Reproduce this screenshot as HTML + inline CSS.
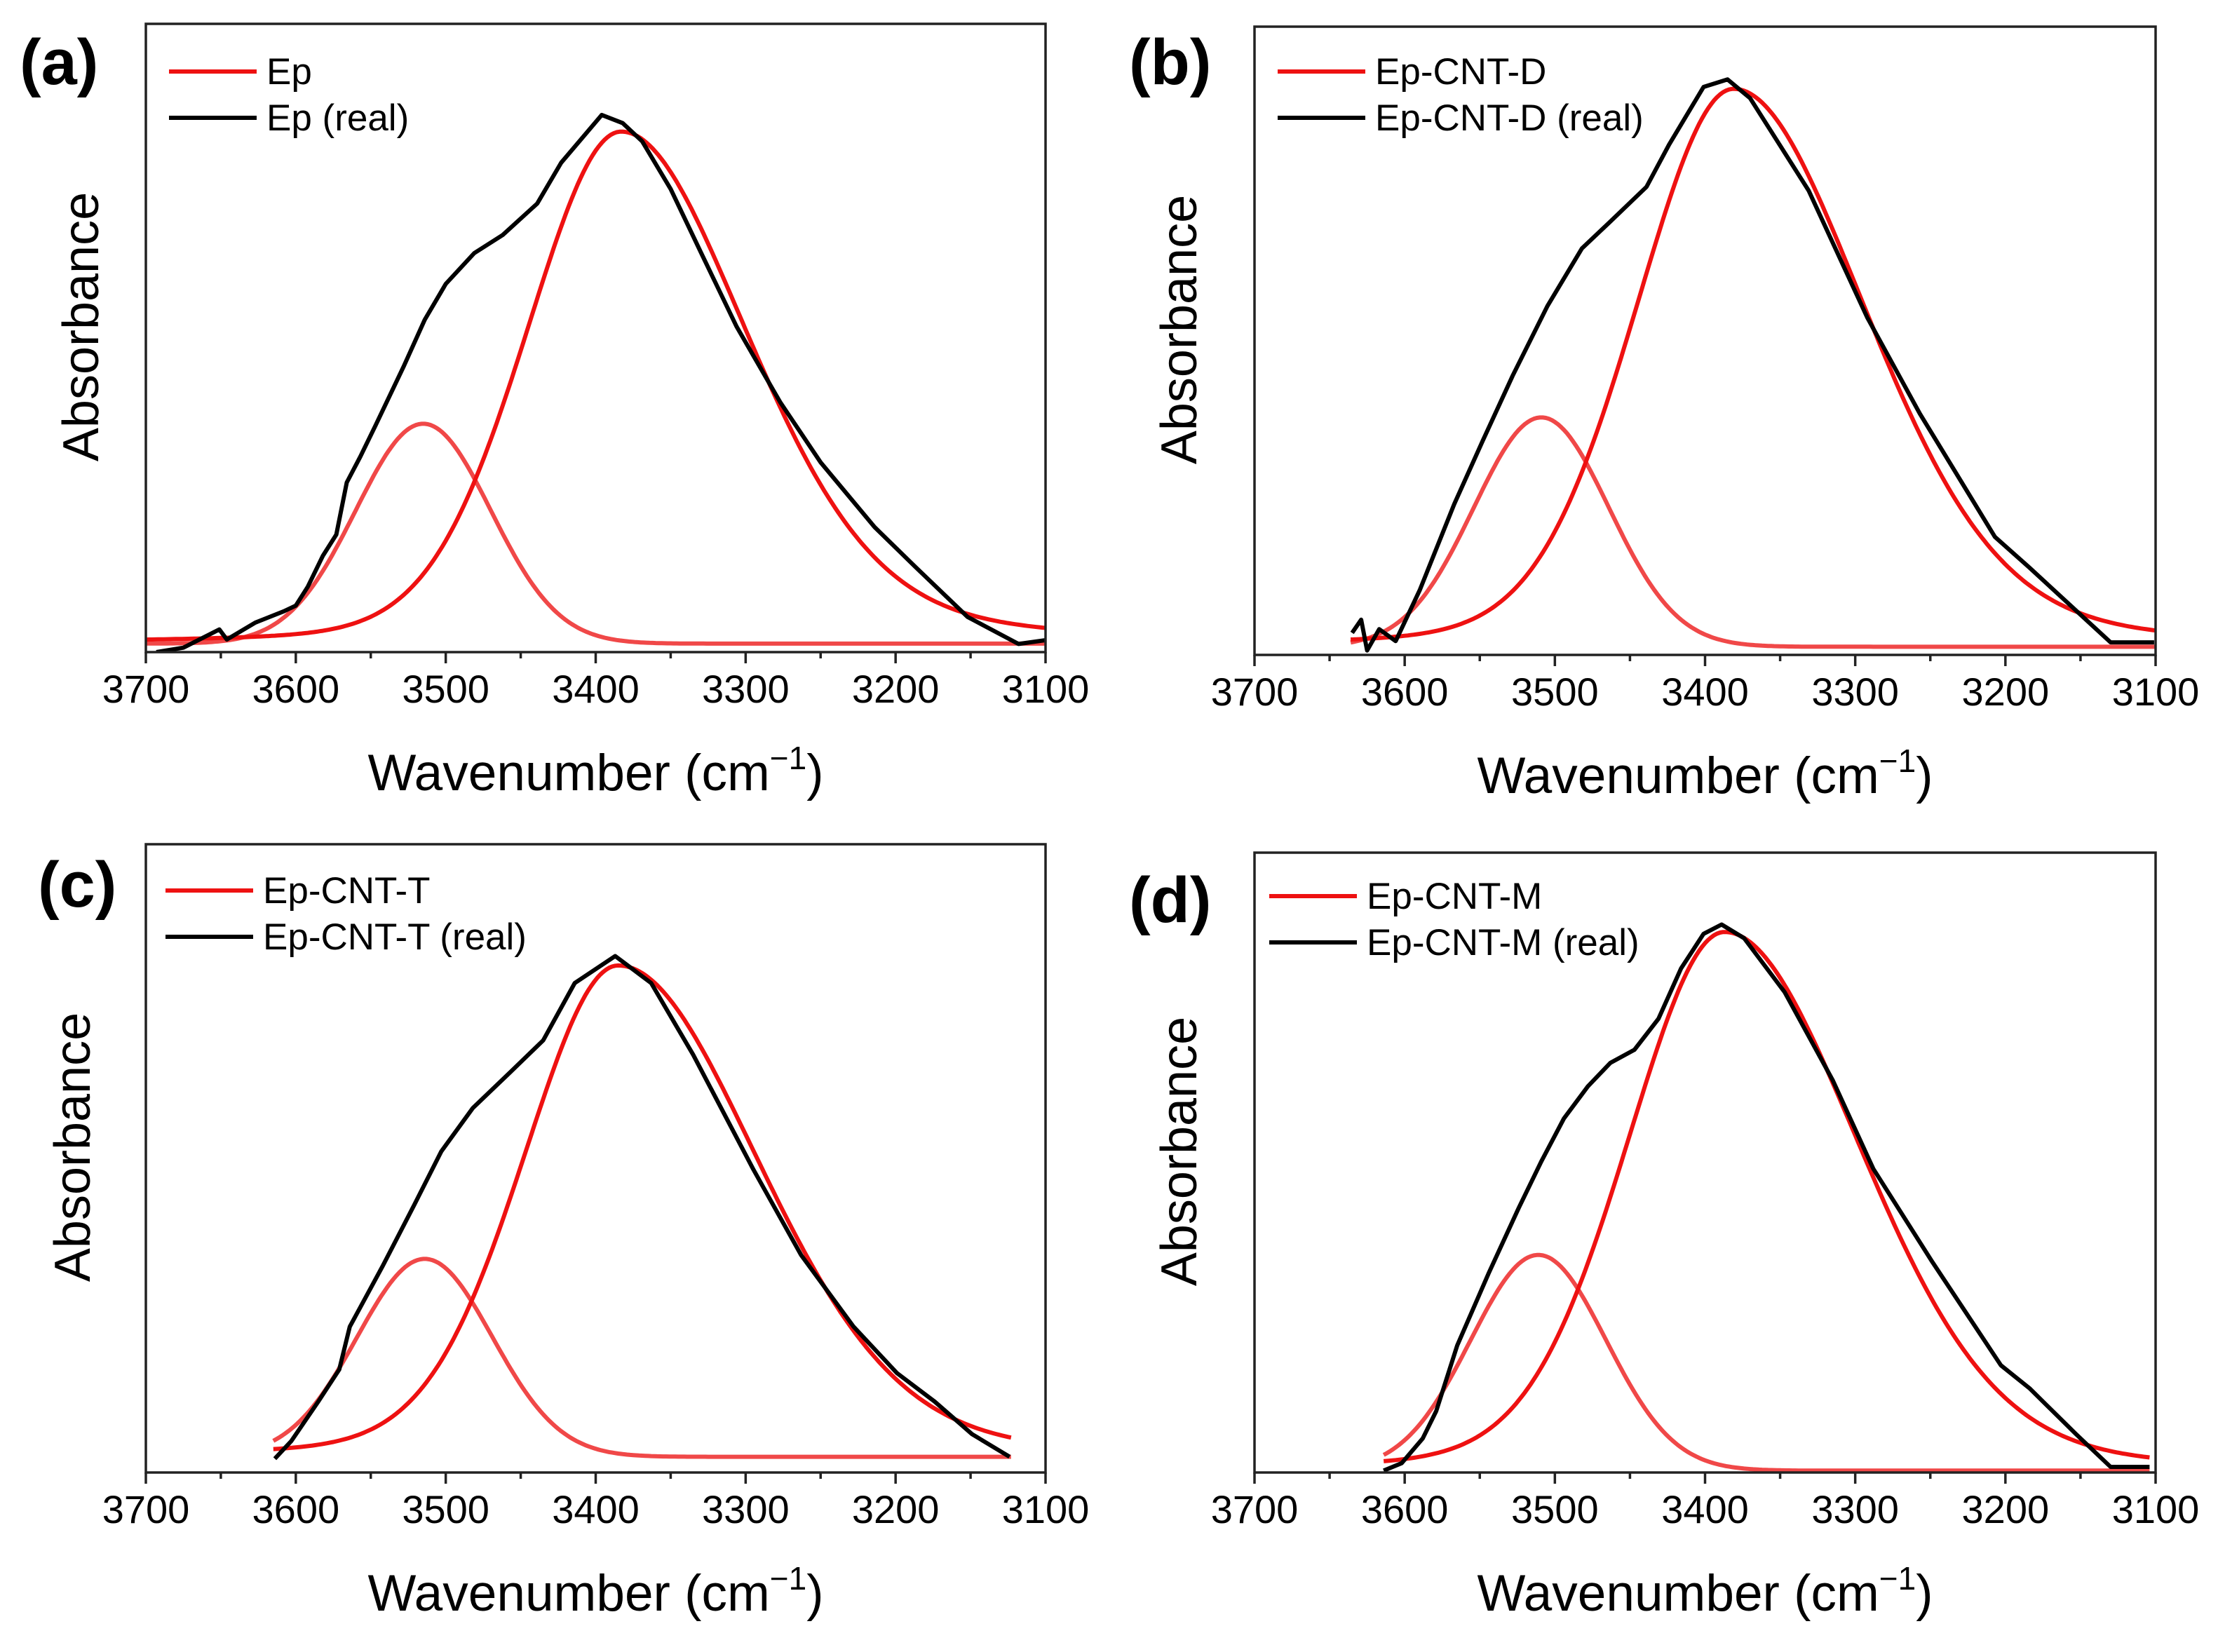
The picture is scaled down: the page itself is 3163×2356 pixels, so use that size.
<!DOCTYPE html>
<html><head><meta charset="utf-8">
<style>
html,body{margin:0;padding:0;background:#fff;}
svg{display:block;}
text{font-family:"Liberation Sans",Arial,sans-serif;fill:#000;}
</style></head>
<body>
<svg id="fig" xmlns="http://www.w3.org/2000/svg" width="3163" height="2356" viewBox="0 0 3163 2356"></svg>
<script>
// ---- Data (absorbance in normalized plot units, 0 = axis bottom, 1 = frame top) ----
const panelLetters = ["(a)","(b)","(c)","(d)"];
const fitLabels = ["Ep","Ep-CNT-D","Ep-CNT-T","Ep-CNT-M"];
const realLabels = ["Ep (real)","Ep-CNT-D (real)","Ep-CNT-T (real)","Ep-CNT-M (real)"];
const xTicks = [3700,3600,3500,3400,3300,3200,3100];
const xMinorTicks = [3650,3550,3450,3350,3250,3150];

// fitted component parameters per panel (pseudo-Voigt main band, Gaussian shoulder)
const fitBaseline = [0.0135,0.013,0.025,0.003];
const mainCenter = [3383,3381,3385,3387];
const mainHeight = [0.815,0.888,0.782,0.869];
const mainHwhmL = [75,77,75,77];
const mainHwhmR = [100,104,110,106];
const mainEtaL = [0.15,0.15,0.15,0.15];
const mainEtaR = [0.25,0.2,0.15,0.15];
const subCenter = [3515,3509,3514,3511];
const subHeight = [0.35,0.365,0.315,0.348];
const subSigma = [45,45,45,45];
const fitStart = [3700,3636,3615,3614];
const fitEnd = [3100,3100,3122,3104];

// measured spectra
const realA_x = [3693,3675,3651,3646,3627,3608,3600,3592,3582,3573,3566,3557,3547,3528,3514,3500,3481,3462,3439,3423,3396,3382,3369,3350,3329,3306,3277,3250,3214,3187,3152,3118,3100];
const realA_y = [0,0.007,0.036,0.020,0.047,0.065,0.074,0.104,0.153,0.187,0.270,0.311,0.360,0.455,0.529,0.586,0.635,0.664,0.714,0.779,0.855,0.842,0.813,0.737,0.632,0.518,0.398,0.302,0.199,0.136,0.056,0.013,0.019];
const realB_x = [3635,3629,3625,3617,3606,3590,3567,3548,3528,3505,3482,3463,3439,3424,3401,3385,3370,3331,3292,3257,3207,3184,3130,3101];
const realB_y = [0.035,0.056,0.007,0.041,0.022,0.103,0.240,0.341,0.445,0.555,0.647,0.690,0.745,0.812,0.904,0.916,0.886,0.739,0.537,0.384,0.188,0.139,0.020,0.020];
const realC_x = [3614,3603,3585,3571,3564,3542,3521,3503,3482,3457,3435,3414,3387,3363,3335,3295,3263,3228,3199,3174,3149,3124];
const realC_y = [0.022,0.050,0.113,0.164,0.232,0.329,0.426,0.511,0.580,0.637,0.688,0.779,0.822,0.779,0.665,0.483,0.346,0.232,0.158,0.113,0.061,0.025];
const realD_x = [3614,3602,3588,3579,3565,3544,3524,3509,3494,3478,3463,3447,3431,3416,3401,3389,3374,3347,3315,3288,3249,3203,3184,3153,3130,3104];
const realD_y = [0.003,0.015,0.055,0.099,0.205,0.322,0.427,0.502,0.571,0.623,0.661,0.682,0.732,0.813,0.869,0.884,0.862,0.775,0.633,0.490,0.341,0.173,0.136,0.062,0.009,0.009];
const realX = [realA_x,realB_x,realC_x,realD_x];
const realY = [realA_y,realB_y,realC_y,realD_y];

// ---- layout ----
const frames = [
  {l:208,r:1491,t:34,b:930, lab:[28,120], leg:[241,102], absX:140},
  {l:1789,r:3074,t:38,b:934, lab:[1610,120], leg:[1822,102], absX:1706},
  {l:208,r:1491,t:1204,b:2100, lab:[54,1293], leg:[236,1270], absX:128},
  {l:1789,r:3074,t:1216,b:2100, lab:[1610,1315], leg:[1810,1278], absX:1706}
];
const NS="http://www.w3.org/2000/svg";
const svg=document.getElementById('fig');
function mk(tag,attrs,parent){const e=document.createElementNS(NS,tag);for(const k in attrs)e.setAttribute(k,attrs[k]);(parent||svg).appendChild(e);return e;}

function pv(w,i){
  const left=w>mainCenter[i];
  const hw=left?mainHwhmL[i]:mainHwhmR[i];
  const eta=left?mainEtaL[i]:mainEtaR[i];
  const x2=((w-mainCenter[i])/hw)**2;
  return mainHeight[i]*((1-eta)*Math.exp(-Math.LN2*x2)+eta/(1+x2));
}

frames.forEach((f,i)=>{
  const g=mk('g',{});
  
  
  const xs=w=>f.l+(3700-w)/600*(f.r-f.l);
  const ys=v=>f.b-v*(f.b-f.t);

  const cp=mk('clipPath',{id:'clip'+i},g);
  mk('rect',{x:f.l,y:f.t,width:f.r-f.l,height:f.b-f.t},cp);

  let d1='',d2='';
  for(let w=fitStart[i],k=0;w>=fitEnd[i]-0.01;w-=2,k++){
    const vs=fitBaseline[i]+subHeight[i]*Math.exp(-((w-subCenter[i])**2)/(2*subSigma[i]**2));
    const vm=fitBaseline[i]+pv(w,i);
    d1+=(k?'L':'M')+xs(w).toFixed(1)+','+ys(vs).toFixed(1);
    d2+=(k?'L':'M')+xs(w).toFixed(1)+','+ys(vm).toFixed(1);
  }
  const p1=mk('path',{d:d1,fill:'none',stroke:'#f04848','stroke-width':6,'stroke-linejoin':'round','clip-path':'url(#clip'+i+')'},g);
  
  
  const p2=mk('path',{d:d2,fill:'none',stroke:'#ee1111','stroke-width':6,'stroke-linejoin':'round','clip-path':'url(#clip'+i+')'},g);
  
  

  let d3='';
  realX[i].forEach((w,k)=>{d3+=(k?'L':'M')+xs(w).toFixed(1)+','+ys(realY[i][k]).toFixed(1);});
  const p3=mk('path',{d:d3,fill:'none',stroke:'#000','stroke-width':6,'stroke-linejoin':'round','clip-path':'url(#clip'+i+')'},g);
  
  

  const fr=mk('rect',{x:f.l,y:f.t,width:f.r-f.l,height:f.b-f.t,fill:'none',stroke:'#222','stroke-width':3.5},g);
  
  

  xTicks.forEach(t=>{
    const x=xs(t);
    const tk=mk('line',{x1:x,x2:x,y1:f.b,y2:f.b+16,stroke:'#222','stroke-width':3.5},g);
    
    
    const tl=mk('text',{x:x,y:f.b+72,'text-anchor':'middle','font-size':56},g);
    tl.textContent=t;
    
    
  });
  xMinorTicks.forEach(t=>{
    const x=xs(t);
    const tk=mk('line',{x1:x,x2:x,y1:f.b,y2:f.b+9,stroke:'#222','stroke-width':3.5},g);
    
    
  });

  const xt=mk('text',{x:(f.l+f.r)/2,y:f.b+197,'text-anchor':'middle','font-size':73},g);
  xt.innerHTML='Wavenumber (cm<tspan dy="-30" font-size="46">\u22121</tspan><tspan dy="30">)</tspan>';
  
  
  const cy=(f.t+f.b)/2-16;
  const yt=mk('text',{x:f.absX,y:cy,'text-anchor':'middle','font-size':72,transform:'rotate(-90 '+f.absX+' '+cy+')'},g);
  yt.textContent='Absorbance';
  
  

  const pl=mk('text',{x:f.lab[0],y:f.lab[1],'font-size':92,'font-weight':'bold'},g);
  pl.textContent=panelLetters[i];
  
  

  const [lx,ly]=f.leg;
  const l1=mk('line',{x1:lx,x2:lx+125,y1:ly,y2:ly,stroke:'#ee1111','stroke-width':6},g);
  
  
  const t1=mk('text',{x:lx+139,y:ly+18,'font-size':53},g);
  t1.textContent=fitLabels[i];
  
  
  const l2=mk('line',{x1:lx,x2:lx+125,y1:ly+66,y2:ly+66,stroke:'#000','stroke-width':6},g);
  
  
  const t2=mk('text',{x:lx+139,y:ly+84,'font-size':53},g);
  t2.textContent=realLabels[i];
  
  
});
</script>
</body></html>
